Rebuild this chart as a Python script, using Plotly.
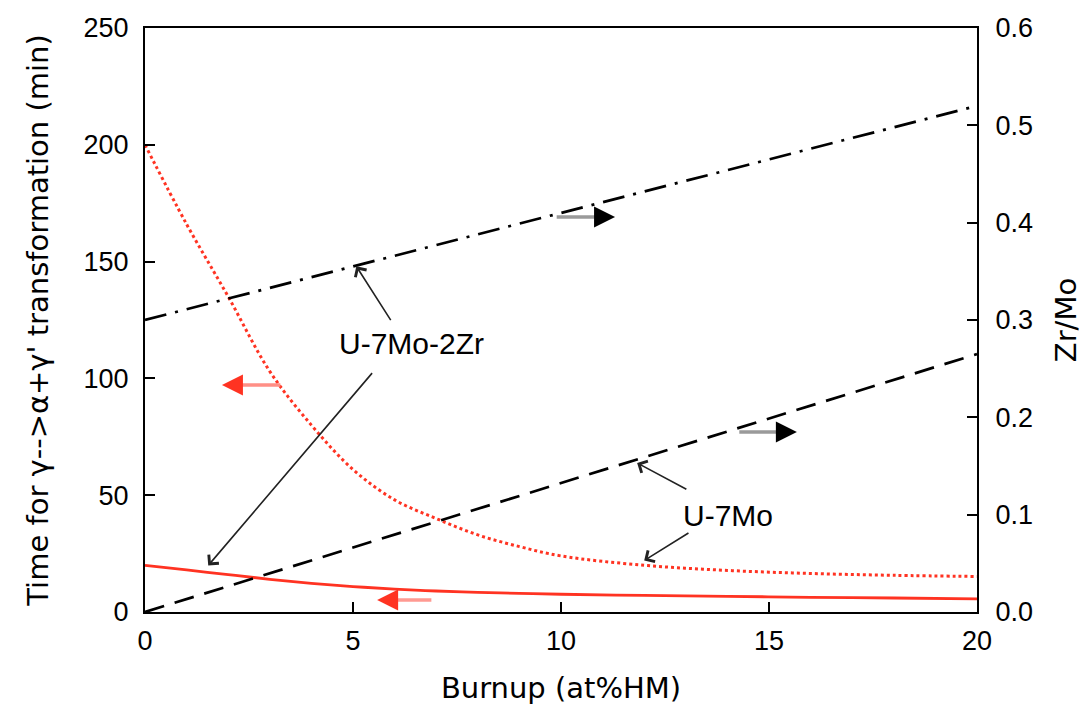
import plotly.graph_objects as go

# ---- data ----
burnup_time = [0, 1, 2, 3, 4, 5, 6, 7, 8, 9, 10, 12, 14, 16, 18, 20]
time_u7mo = [200, 166, 135, 103, 80, 61, 48, 40, 33, 28, 24, 20, 17.8, 16.5, 15.7, 15.2]
time_u7mo2zr = [20, 18, 16, 14, 12.3, 10.9, 9.8, 9.0, 8.4, 8.0, 7.6, 7.1, 6.7, 6.3, 6.0, 5.6]

burnup_ratio = [0, 20]
zrmo_u7mo = [0.0, 0.265]
zrmo_u7mo2zr = [0.30, 0.52]

x_ticks = [0, 5, 10, 15, 20]
y_ticks = [0, 50, 100, 150, 200, 250]
y2_ticks = [0.0, 0.1, 0.2, 0.3, 0.4, 0.5, 0.6]

RED = "#ff3322"
TICKFONT = dict(family="Liberation Sans, Arial, sans-serif", size=27, color="black")
TITLEFONT = dict(family="DejaVu Sans, sans-serif", size=29, color="black")

fig = go.Figure()
fig.add_trace(go.Scatter(x=burnup_time, y=time_u7mo, mode="lines", line_shape="spline",
                         line=dict(color=RED, width=3, dash="dot"), showlegend=False))
fig.add_trace(go.Scatter(x=burnup_time, y=time_u7mo2zr, mode="lines", line_shape="spline",
                         line=dict(color=RED, width=2.8), showlegend=False))
fig.add_trace(go.Scatter(x=burnup_ratio, y=zrmo_u7mo, mode="lines", yaxis="y2",
                         line=dict(color="black", width=2.7, dash="20px,11px"), showlegend=False))
fig.add_trace(go.Scatter(x=burnup_ratio, y=zrmo_u7mo2zr, mode="lines", yaxis="y2",
                         line=dict(color="black", width=2.7, dash="22px,9px,3px,9px"), showlegend=False))

ann = []
LBL = dict(family="Liberation Sans, Arial, sans-serif", size=30, color="black")
ann.append(dict(x=6.4, y=115, text="U-7Mo-2Zr", showarrow=False, font=LBL, xref="x", yref="y"))
ann.append(dict(x=15.14, y=41.5, text="U-7Mo", showarrow=False, font=LBL, xref="x", yref="y",
                xanchor="right"))


def black_arrow(tx, ty, hx, hy):
    ann.append(dict(x=hx, y=hy, ax=tx, ay=ty, xref="x", yref="y", axref="x", ayref="y",
                    text="", showarrow=True, arrowhead=4, arrowsize=1.6, arrowwidth=1.6,
                    arrowcolor="#222222", standoff=0, startstandoff=0))


black_arrow(5.93, 124.3, 5.08, 148.0)
black_arrow(5.49, 102.9, 1.52, 19.9)
black_arrow(13.05, 52.2, 11.83, 63.8)
black_arrow(13.1, 34.2, 12.0, 22.0)


def head_arrow(tx, hx, y, shaft, head, direction):
    ann.append(dict(x=hx, y=y, ax=tx, ay=y, xref="x", yref="y", axref="x", ayref="y",
                    text="", showarrow=True, arrowhead=0, arrowwidth=3.5,
                    arrowcolor=shaft, standoff=8, startstandoff=0))
    ann.append(dict(x=hx, y=y, ax=hx - direction * 0.3, ay=y, xref="x", yref="y",
                    axref="x", ayref="y", text="", showarrow=True, arrowhead=2,
                    arrowsize=1.4, arrowwidth=3, arrowcolor=head, standoff=0))


head_arrow(3.29, 1.85, 97.2, "#ff8f86", RED, -1)
head_arrow(6.92, 5.58, 5.14, "#ff9a92", RED, -1)
head_arrow(9.86, 11.3, 169.1, "#9a9a9a", "black", 1)
head_arrow(14.25, 15.67, 77.05, "#9a9a9a", "black", 1)

fig.update_layout(
    width=1091, height=716,
    margin=dict(l=145, r=114, t=28, b=104),
    paper_bgcolor="white", plot_bgcolor="white",
    annotations=ann,
    xaxis=dict(range=[0, 20], tickvals=x_ticks, ticktext=[str(v) for v in x_ticks],
               ticks="inside", ticklen=10, tickwidth=2, tickcolor="black",
               showline=True, linewidth=2, linecolor="black", mirror=True,
               showgrid=False, zeroline=False, tickfont=TICKFONT, ticklabelstandoff=4,
               title=dict(text="Burnup (at%HM)", font=TITLEFONT, standoff=22)),
    yaxis=dict(range=[0, 250], tickvals=y_ticks, ticktext=[str(v) for v in y_ticks],
               ticks="inside", ticklen=10, tickwidth=2, tickcolor="black",
               showline=True, linewidth=2, linecolor="black", mirror=True,
               showgrid=False, zeroline=False, tickfont=TICKFONT, ticklabelstandoff=9,
               title=dict(text="Time for γ-->α+γ' transformation (min)", font=TITLEFONT,
                          standoff=26)),
    yaxis2=dict(range=[0, 0.6], tickvals=y2_ticks, ticktext=[f"{v:.1f}" for v in y2_ticks],
                overlaying="y", side="right", anchor="x",
                ticks="inside", ticklen=10, tickwidth=2, tickcolor="black",
                showline=True, linewidth=2, linecolor="black",
                showgrid=False, zeroline=False, tickfont=TICKFONT, ticklabelstandoff=11,
                title=dict(text="Zr/Mo", font=TITLEFONT, standoff=24)),
)

fig.write_html("out.html")
